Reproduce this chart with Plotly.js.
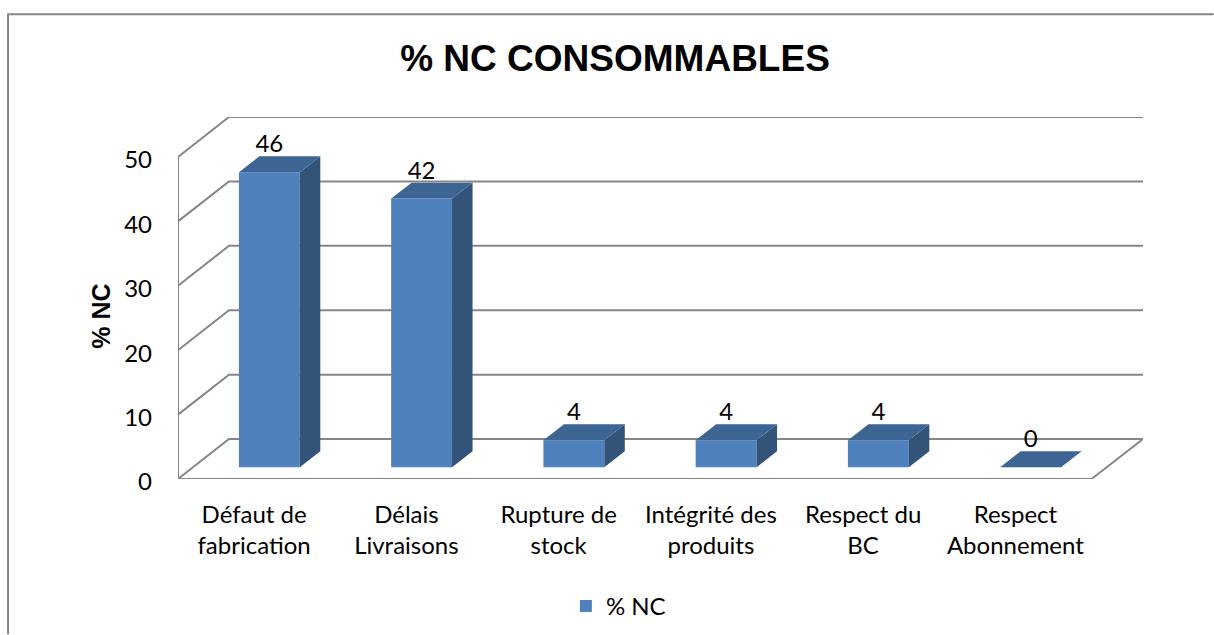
<!DOCTYPE html>
<html><head><meta charset="utf-8">
<script src="https://cdn.plot.ly/plotly-3.0.1.min.js"></script>
<style>html,body{margin:0;padding:0;background:#fff;overflow:hidden}#c{width:1214px;height:635px}</style>
</head><body><div id="c"></div>
<script>
const categories = ["Défaut de<br>fabrication","Délais<br>Livraisons","Rupture de<br>stock","Intégrité des<br>produits","Respect du<br>BC","Respect<br>Abonnement"];
const values = [45.8,41.7,4.2,4.2,4.2,0];
const yTicks = [0,10,20,30,40,50];
const seriesName = "% NC";

// 3-D look, in axis units
const W=1214,H=635,L=178,R=1143.3,T=117,B=479.5;
const slot=152.3, unit=6.45;
const xMax=(R-L)/slot, yMax=(B-T)/unit;
const wallDx=51/slot, wallDy=40/unit;
const barW=0.4, barCenter=0.6, barBase=11.8/unit, barDx=20.5/slot, barDy=16/unit;
const labelDrop=2/unit;
const gridColor="#868686", gridW=2;
const font="Lato, 'Open Sans', sans-serif";
const px=x=>(x-L)/(R-L), py=y=>(B-y)/(B-T);

const shapes=[];
const path=(pts)=>({type:'path',layer:'below',xref:'x',yref:'y',line:{color:gridColor,width:gridW},
  path:pts.map((p,i)=>(i?'L':'M')+p[0]+','+p[1]).join(' ')});
yTicks.forEach(t=>shapes.push(path([[0,t],[wallDx,t+wallDy],[xMax,t+wallDy]])));
shapes.push(path([[0,yTicks[yTicks.length-1]],[0,0],[categories.length,0],[xMax,wallDy]]));
// chart frame (top and left edges only are visible)
shapes.push({type:'path',layer:'below',xref:'paper',yref:'paper',line:{color:gridColor,width:2},
  path:`M${px(8)},${py(635)} L${px(8)},${py(14)} L${px(1214)},${py(14)}`});

const xs=categories.map((_,i)=>i+barCenter);
const poly=(fn)=>{const X=[],Y=[];values.forEach((v,i)=>{fn(v,i).forEach(p=>{X.push(p[0]);Y.push(p[1]);});X.push(null);Y.push(null);});return{X,Y};};
const side=poly((v,i)=>{const r=xs[i]+barW/2,b=barBase;return v>0?[[r,b],[r+barDx,b+barDy],[r+barDx,b+v+barDy],[r,b+v],[r,b]]:[];});
const top_=poly((v,i)=>{const l=xs[i]-barW/2,r=xs[i]+barW/2,t=barBase+v;return[[l,t],[r,t],[r+barDx,t+barDy],[l+barDx,t+barDy],[l,t]];});

const face=(p,color)=>({type:'scatter',mode:'lines',x:p.X,y:p.Y,fill:'toself',fillcolor:color,line:{width:0,color:color},showlegend:false,hoverinfo:'skip'});

const data=[
 {type:'bar',name:seriesName,x:xs,y:values,base:barBase,width:barW,marker:{color:'#4F81BD',line:{width:0}},showlegend:true,hoverinfo:'skip'},
 face(side,'#335378'),
 face(top_,'#3D6594'),
 {type:'scatter',mode:'text',x:xs,y:values.map(v=>v+barBase+barDy-labelDrop),text:values.map(v=>String(Math.round(v))),
  textposition:'top center',textfont:{family:font,size:24,color:'#000'},showlegend:false,hoverinfo:'skip'}
];
const layout={
 width:W,height:H,paper_bgcolor:'#fff',plot_bgcolor:'rgba(0,0,0,0)',showlegend:true,
 margin:{l:L,r:W-R,t:T,b:H-B,pad:0,autoexpand:false},
 title:{text:"% NC CONSOMMABLES",font:{family:"'Liberation Sans',Arial,sans-serif",size:37,color:'#000',weight:700},x:615/W,xanchor:'center',y:1-58/H,yanchor:'middle',yref:'container'},
 xaxis:{range:[0,xMax],tickmode:'array',tickvals:categories.map((_,i)=>i+0.5),ticktext:categories,showgrid:false,zeroline:false,showline:false,ticks:'',ticklabelstandoff:19,tickangle:0,tickfont:{family:font,size:24,color:'#000'},fixedrange:true},
 yaxis:{range:[0,yMax],tickmode:'array',tickvals:yTicks,ticktext:yTicks.map(String),showgrid:false,zeroline:false,showline:false,ticks:'',ticklabelstandoff:25,ticklabelshift:3,tickfont:{family:font,size:24,color:'#000'},fixedrange:true},
 legend:{x:px(566),y:py(607),xanchor:'left',yanchor:'middle',orientation:'h',font:{family:font,size:24,color:'#000'},bgcolor:'rgba(0,0,0,0)'},
 annotations:[{text:"<b>% NC</b>",xref:'paper',yref:'paper',x:px(101),y:py(317),xanchor:'center',yanchor:'middle',showarrow:false,textangle:-90,font:{family:"'Liberation Sans',Arial,sans-serif",size:25,color:'#000'}}],
 shapes:shapes
};
Plotly.newPlot('c',data,layout,{displayModeBar:false,staticPlot:true});
</script></body></html>
